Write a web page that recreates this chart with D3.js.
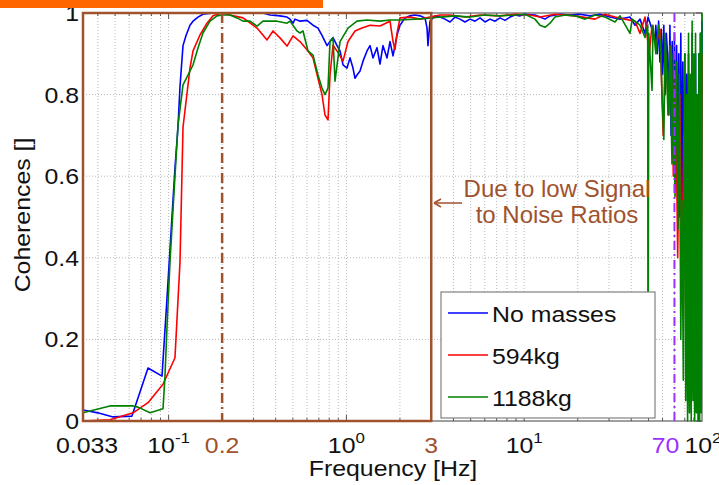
<!DOCTYPE html>
<html>
<head>
<meta charset="utf-8">
<script src="https://d3js.org/d3.v7.min.js"></script>
<style>
  body { margin: 0; background: #fff; }
  text { font-family: "Liberation Sans", Arial, sans-serif; }
</style>
</head>
<body>
<svg id="chart" width="719" height="485"></svg>
<script>
// ---- data: [frequency Hz, coherence] ----
var noMasses = [
  [0.033,0.027],[0.040,0.02],[0.0487,0.01],[0.0622,0.012],[0.0766,0.13],[0.0918,0.11],
  [0.0979,0.3],[0.1018,0.42],[0.1086,0.62],[0.1129,0.72],[0.1159,0.82],[0.1205,0.92],
  [0.1253,0.945],[0.1319,0.97],[0.1372,0.98],[0.1463,0.99],[0.1561,0.997],[0.1777,1.0],
  [0.2215,1.0],[0.287,1.0],[0.3396,1.0],[0.3718,0.995],[0.4231,0.993],[0.4634,0.99],
  [0.4817,0.985],[0.5007,0.975],[0.5139,0.985],[0.5482,0.98],[0.6003,0.982],[0.6486,0.97],
  [0.692,0.963],[0.729,0.945],[0.7778,0.92],[0.8088,0.93],[0.8407,0.94],[0.8855,0.92],
  [0.9206,0.907],[0.957,0.873],[1.0079,0.865],[1.048,0.89],[1.089,0.865],[1.118,0.84],
  [1.147,0.848],[1.193,0.858],[1.24,0.882],[1.306,0.907],[1.358,0.92],[1.411,0.89],
  [1.486,0.915],[1.545,0.875],[1.606,0.92],[1.692,0.89],[1.759,0.93],[1.829,0.895],
  [1.926,0.946],[2.002,0.97],[2.136,0.988],[2.28,0.993],[2.432,0.995],[2.594,0.993],
  [2.768,0.988],[2.841,0.963],[2.877,0.92],[2.952,0.98],[3.15,0.993],[3.36,0.99],
  [3.585,0.985],[3.825,0.978],[4.081,0.99],[4.355,0.985],[4.645,0.978],[4.957,0.985],
  [5.288,0.98],[5.642,0.988],[6.019,0.978],[6.423,0.985],[6.849,0.98],[7.31,0.988],
  [7.798,0.982],[8.321,0.99],[8.877,0.995],[9.472,0.993],[10.1,0.997],[11.5,0.995],
  [12.27,0.99],[13.09,0.985],[13.97,0.993],[15.9,0.997],[18.1,0.995],[20.6,0.997],
  [23.45,0.993],[26.69,0.997],[30.39,0.99],[34.58,0.985],[39.37,0.99],[42.01,0.97],
  [44.81,0.985],[47.81,0.95],[49.71,0.99],[52.35,0.96],[54.42,0.93],[55,0.97],
  [56,0.9],[57,0.98],[58,0.88],[59,0.96],[60,0.85],[61,0.97],[62,0.8],[63,0.95],
  [64,0.9],[65,0.75],[66,0.97],[67,0.7],[68,0.93],[69,0.65],[70,0.95],[71,0.6],
  [72,0.92],[73,0.55],[74,0.9],[75,0.5],[76,0.95],[77,0.45],[78,0.88],[79,0.4],
  [80,0.9],[81,0.5],[82,0.85],[83,0.35],[84,0.9],[85,0.3],[86,0.8],[87,0.4],
  [88,0.95],[89,0.25],[90,0.85],[91,0.3],[92,0.9],[93,0.2],[94,0.75],[95,0.25],
  [96,0.9],[97,0.3],[98,0.95],[99,0.5],[100,0.98]
];
var kg594 = [
  [0.033,0.0],[0.0468,0.003],[0.0631,0.02],[0.0766,0.045],[0.093,0.09],[0.1086,0.155],
  [0.1159,0.39],[0.1205,0.72],[0.1319,0.865],[0.1372,0.907],[0.1501,0.946],[0.1644,0.975],
  [0.1777,0.993],[0.1997,1.0],[0.2215,0.995],[0.2621,0.988],[0.3142,0.963],[0.3576,0.934],
  [0.3865,0.956],[0.4231,0.939],[0.4634,0.919],[0.5007,0.944],[0.5482,0.93],[0.6081,0.907],
  [0.6486,0.89],[0.692,0.84],[0.729,0.8],[0.7579,0.75],[0.788,0.738],[0.8088,0.848],
  [0.8407,0.921],[0.8855,0.907],[0.957,0.882],[1.021,0.93],[1.118,0.956],[1.224,0.963],
  [1.358,0.97],[1.545,0.968],[1.759,0.98],[1.829,0.93],[1.876,0.91],[1.926,0.95],
  [2.002,0.988],[2.28,0.99],[2.594,0.985],[2.952,0.99],[3.36,0.995],[3.825,0.995],
  [4.645,0.99],[5.642,0.995],[7.31,0.993],[8.877,0.997],[10.78,0.995],[12.27,0.99],
  [14.9,0.997],[19.31,0.993],[25.02,0.985],[28.48,0.997],[32.42,0.99],[36.9,0.985],
  [42.01,0.98],[44.81,0.95],[47.81,0.99],[50.5,0.9],[52.35,0.97],[55,0.92],
  [58.06,0.96],[60.5,0.7],[62.5,0.9],[65,0.75],[67,0.92],[69,0.6],[71,0.85],
  [73,0.4],[75,0.8],[77,0.35],[79,0.7],[81,0.25],[83,0.6],[85,0.3],[87,0.55],
  [89,0.2],[91,0.45],[93,0.1],[95,0.35],[97,0.05],[98.5,0.2],[100,0.9]
];
var kg1188 = [
  [0.033,0.02],[0.0468,0.037],[0.0631,0.037],[0.0673,0.034],[0.0786,0.02],[0.093,0.03],
  [0.0954,0.11],[0.0979,0.23],[0.1018,0.39],[0.1086,0.6],[0.1129,0.725],[0.1205,0.824],
  [0.1285,0.848],[0.1372,0.873],[0.1463,0.914],[0.1561,0.951],[0.1709,0.98],[0.1872,0.993],
  [0.1997,0.995],[0.2215,0.995],[0.2424,0.988],[0.2621,0.98],[0.287,0.98],[0.3142,0.968],
  [0.3396,0.98],[0.4071,0.98],[0.4634,0.975],[0.4817,0.98],[0.5273,0.956],[0.5482,0.951],
  [0.5699,0.956],[0.6081,0.907],[0.6486,0.897],[0.692,0.848],[0.729,0.816],[0.7579,0.8],
  [0.788,0.816],[0.8088,0.93],[0.8407,0.939],[0.8629,0.833],[0.9206,0.93],[1.021,0.963],
  [1.147,0.98],[1.306,0.983],[1.545,0.98],[1.759,0.983],[2.002,0.983],[2.432,0.985],
  [2.952,0.987],[3.361,0.99],[4.081,0.993],[4.957,0.99],[6.019,0.995],[7.31,0.993],
  [8.877,0.995],[10.1,0.997],[11.5,0.985],[12.27,0.97],[13.09,0.965],[13.97,0.975],
  [14.9,0.99],[17,0.995],[19.31,0.993],[21.98,0.985],[25.02,0.995],[28.48,0.99],
  [32.42,0.978],[34.58,0.993],[39.37,0.95],[40.5,0.985],[44.81,0.97],[47.81,0.94],
  [49.5,0.97],[49.71,0.02],[50.2,0.95],[52.35,0.81],[53,0.97],[55,0.9],[57,0.97],
  [58.5,0.92],[59.57,0.8],[61,0.69],[62,0.95],[63,0.88],[64.38,0.75],[66,0.92],
  [67.8,0.63],[69,0.9],[70.5,0.55],[72,0.88],[73.28,0.47],[74.5,0.85],[76,0.2],
  [77.19,0.54],[78.5,0.1],[79.3,0.7],[80,0.9],[80.6,0.3],[81,0.05],[82,0.8],[82.5,0.2],
  [83,0.0],[84,0.95],[84.5,0.1],[85,0.02],[86,0.85],[86.5,0.15],[87,0.0],[88,0.98],
  [88.5,0.2],[89,0.05],[90,0.9],[90.5,0.1],[91,0.0],[92,0.95],[92.5,0.05],[93,0.02],
  [94,0.8],[94.5,0.1],[95,0.0],[96,0.9],[96.5,0.05],[97,0.0],[98,0.95],[98.5,0.1],
  [99,0.02],[100,1.0]
];
var seriesNames = ["No masses", "594kg", "1188kg"];
var seriesData = [noMasses, kg594, kg1188];
var xTickValues = [0.033, 0.1, 0.2, 1, 3, 10, 70, 100];
var xTickLabels = ["0.033", "10^-1", "0.2", "10^0", "3", "10^1", "70", "10^2"];
var yTickValues = [0, 0.2, 0.4, 0.6, 0.8, 1];
var yTickLabels = ["0", "0.2", "0.4", "0.6", "0.8", "1"];
var bandEdges = [0.033, 3];     // low SNR band
var markFreqs = [0.2, 70];
var noteLines = ["Due to low Signal", "to Noise Ratios"];

// ---- layout ----
var brown = "#a0522d", purple = "#9b30ff";
var colors = ["#0000ff", "#ff0000", "#008000"];
var stretch = 1.13;   // matlab text comes out a bit wide
var svg = d3.select("#chart");
var x = d3.scaleLog().domain([0.033, 100]).range([83, 702]);
var y = d3.scaleLinear().domain([0, 1]).range([421, 13]);

function addText(parent, px, py, str, size, anchor, color, rot) {
  return parent.append("text")
    .attr("transform", "translate(" + px + "," + py + ")" + (rot ? " rotate(" + rot + ")" : "") + " scale(" + stretch + ",1)")
    .attr("font-size", size).attr("text-anchor", anchor).attr("fill", color).text(str);
}

// grid
var gridX = x.ticks().filter(function(d) { return d > 0.034 && d < 99; });
svg.append("g").selectAll("line").data(gridX).enter().append("line")
  .attr("x1", d => x(d)).attr("x2", d => x(d)).attr("y1", y(0)).attr("y2", y(1))
  .attr("stroke", "#b8b8b8").attr("stroke-dasharray", "1,2");
svg.append("g").selectAll("line").data(yTickValues.slice(1, -1)).enter().append("line")
  .attr("x1", x(0.033)).attr("x2", x(100)).attr("y1", d => y(d)).attr("y2", d => y(d))
  .attr("stroke", "#b8b8b8").attr("stroke-dasharray", "1,2");

// axes box + ticks (inward, matlab style)
svg.append("rect").attr("x", 83).attr("y", 13).attr("width", 619).attr("height", 408)
  .attr("fill", "none").attr("stroke", "#7f7f7f").attr("stroke-width", 1.5);
var tk = svg.append("g").attr("stroke", "#555");
gridX.forEach(function(d) {
  var major = Math.abs(Math.log10(d) - Math.round(Math.log10(d))) < 1e-6;
  var len = major ? 6 : 3;
  tk.append("line").attr("x1", x(d)).attr("x2", x(d)).attr("y1", y(0)).attr("y2", y(0) - len);
  tk.append("line").attr("x1", x(d)).attr("x2", x(d)).attr("y1", y(1)).attr("y2", y(1) + len);
});
yTickValues.forEach(function(d) {
  tk.append("line").attr("x1", x(100)).attr("x2", x(100) - 6).attr("y1", y(d)).attr("y2", y(d));
});

// data lines
var line = d3.line().x(d => x(d[0])).y(d => y(d[1]));
seriesData.forEach(function(s, i) {
  svg.append("path").datum(s).attr("d", line).attr("fill", "none")
    .attr("stroke", colors[i]).attr("stroke-width", 1.6).attr("stroke-linejoin", "round");
});

// low SNR band and marker lines
svg.append("rect").attr("x", x(bandEdges[0])).attr("y", y(1))
  .attr("width", x(bandEdges[1]) - x(bandEdges[0])).attr("height", y(0) - y(1))
  .attr("fill", "none").attr("stroke", brown).attr("stroke-width", 2.5);
svg.append("line").attr("x1", x(markFreqs[0])).attr("x2", x(markFreqs[0]))
  .attr("y1", y(1)).attr("y2", y(0)).attr("stroke", brown).attr("stroke-width", 2.5)
  .attr("stroke-dasharray", "10,4,2,4");
svg.append("line").attr("x1", x(markFreqs[1])).attr("x2", x(markFreqs[1]))
  .attr("y1", y(1)).attr("y2", y(0)).attr("stroke", purple).attr("stroke-width", 2)
  .attr("stroke-dasharray", "9,4,2,4");

// tick labels
var tickColor = function(v) { return v === 0.2 || v === 3 ? brown : (v === 70 ? purple : "#111"); };
xTickValues.forEach(function(v, i) {
  var parts = xTickLabels[i].split("^");
  var px = x(v);
  if (v === 0.033) px += 4;
  if (v === 70) px -= 9;
  if (v === 100) px += 1;
  var t = addText(svg, px, 453, parts[0], 22, "middle", tickColor(v));
  if (parts[1]) t.append("tspan").attr("dy", -10).attr("font-size", 15).text(parts[1]);
});
yTickValues.forEach(function(v, i) {
  addText(svg, 79, y(v) + 8, yTickLabels[i], 22, "end", "#111");
});

// axis titles
addText(svg, 393, 476, "Frequency [Hz]", 22, "middle", "#111");
addText(svg, 30, 215, "Coherences []", 22, "middle", "#111", -90);

// annotation
noteLines.forEach(function(s, i) {
  svg.append("text").attr("x", 557).attr("y", 197 + i * 26).attr("text-anchor", "middle")
    .attr("font-size", 24).attr("fill", brown).text(s);
});
svg.append("line").attr("x1", 462).attr("x2", 436).attr("y1", 203).attr("y2", 203)
  .attr("stroke", brown).attr("stroke-width", 1.5);
svg.append("path").attr("d", "M434,203 L441,199 M434,203 L441,207")
  .attr("stroke", brown).attr("stroke-width", 1.5).attr("fill", "none");

// legend
var lg = svg.append("g");
lg.append("rect").attr("x", 441).attr("y", 292).attr("width", 214).attr("height", 126)
  .attr("fill", "#fff").attr("stroke", "#808080").attr("stroke-width", 1.2);
seriesNames.forEach(function(n, i) {
  var ly = 313 + i * 42;
  lg.append("line").attr("x1", 448).attr("x2", 488).attr("y1", ly).attr("y2", ly)
    .attr("stroke", colors[i]).attr("stroke-width", 1.6);
  addText(lg, 492, ly + 9, n, 22, "start", "#111");
});

// orange bar at top
svg.append("rect").attr("x", 0).attr("y", 0).attr("width", 323).attr("height", 8).attr("fill", "#ff6600");
</script>
</body>
</html>
